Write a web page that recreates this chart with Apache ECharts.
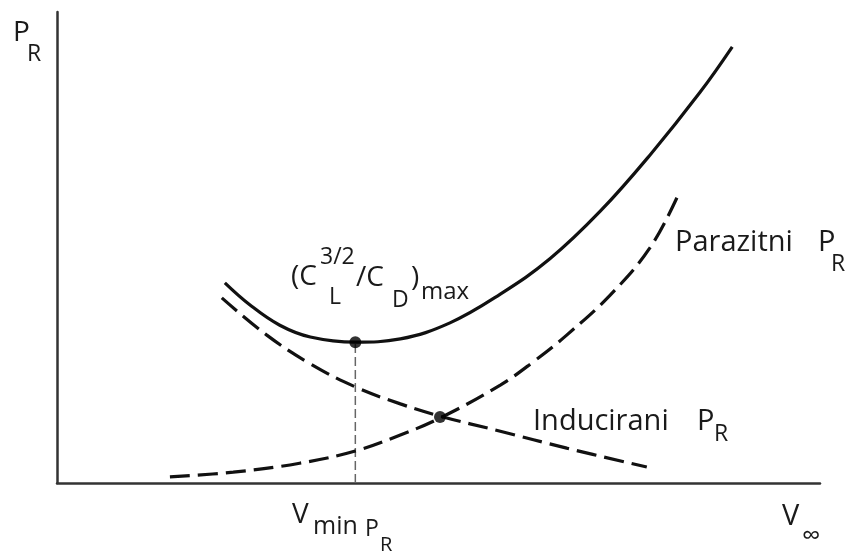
<!DOCTYPE html>
<html>
<head>
<meta charset="utf-8">
<script src="https://cdn.jsdelivr.net/npm/echarts@6/dist/echarts.min.js"></script>
<style>
  html,body{margin:0;padding:0;background:#fff;}
  #chart{width:848px;height:553px;}
</style>
</head>
<body>
<div id="chart"></div>
<script>
// curves, axes 0..100 (no scale shown)
const totalPR = [[22.0,42.5],[25.3,37.8],[29.2,33.5],[33.2,31.0],[39.1,29.9],[45.0,30.6],[51.5,34.0],[58.1,40.1],[64.6,47.6],[71.2,57.7],[77.7,69.6],[84.3,83.0],[88.5,92.6]];
const inducedPR = [[21.6,39.3],[27.5,31.4],[33.2,25.3],[39.1,20.4],[45.0,16.8],[50.2,14.2],[58.1,11.0],[66.8,7.4],[77.3,3.4]];
const parasiticPR = [[14.8,1.3],[23.1,2.3],[31.8,4.2],[39.1,6.8],[45.0,10.2],[50.2,13.8],[58.1,20.8],[62.4,25.7],[66.8,31.4],[72.5,39.9],[77.7,49.9],[81.4,61.1]];
const minPoint = [39.1,29.9];
const crossPoint = [50.2,14.0];
const vMinLine = [[39.1,0],[39.1,29.9]];

const FONT = '"Open Sans", "DejaVu Sans", sans-serif';
const INK = '#1a1a1a';

// text piece, placed by its baseline
function txt(str, x, base, size) {
  return {
    type: 'text', x: x, y: base - size * 0.34, z: 10,
    style: { text: str, fontSize: size, fontFamily: FONT, fill: INK, verticalAlign: 'middle', align: 'left' }
  };
}

const chart = echarts.init(document.getElementById('chart'));
chart.setOption({
  animation: false,
  grid: { left: 57, right: 28, top: 12, bottom: 70 },
  xAxis: {
    type: 'value', min: 0, max: 100,
    axisLine: { lineStyle: { color: '#333', width: 2.5 } },
    axisTick: { show: false }, axisLabel: { show: false }, splitLine: { show: false }
  },
  yAxis: {
    type: 'value', min: 0, max: 100,
    axisLine: { show: true, lineStyle: { color: '#333', width: 2.5 } },
    axisTick: { show: false }, axisLabel: { show: false }, splitLine: { show: false }
  },
  series: [
    {
      name: 'vmin', type: 'line', data: vMinLine, showSymbol: false,
      lineStyle: { color: '#666', width: 1.5, type: [9, 4] }
    },
    {
      name: 'Inducirani', type: 'line', data: inducedPR, smooth: 0.4, showSymbol: false,
      lineStyle: { color: '#111', width: 3.2, type: [20, 8] }
    },
    {
      name: 'Parazitni', type: 'line', data: parasiticPR, smooth: 0.4, showSymbol: false,
      lineStyle: { color: '#111', width: 3.2, type: [20, 8] }
    },
    {
      name: 'Ukupni', type: 'line', data: totalPR, smooth: 0.4, showSymbol: false,
      lineStyle: { color: '#111', width: 3.2 }
    },
    {
      type: 'scatter', data: [minPoint, crossPoint], symbolSize: 12,
      itemStyle: { color: '#000' }, z: 5
    }
  ],
  graphic: [
    txt('P', 13, 43, 28), txt('R', 27, 62, 23),
    txt('(C', 291, 287, 28), txt('3/2', 320, 265, 23), txt('L', 329, 305, 23),
    txt('/C', 356, 288, 28), txt('D', 392, 308, 23), txt(')', 411, 288, 28),
    txt('max', 421, 300, 24),
    txt('Parazitni', 675, 253, 29), txt('P', 818, 253, 29), txt('R', 831, 272, 23),
    txt('Inducirani', 533, 432, 29), txt('P', 697, 432, 29), txt('R', 714, 442, 23),
    txt('V', 292, 525, 28), txt('min', 313, 535, 25), txt('P', 365, 537, 23), txt('R', 380, 552, 20),
    txt('V', 782, 527, 29), txt('\u221e', 802, 545, 26)
  ]
});
</script>
</body>
</html>
